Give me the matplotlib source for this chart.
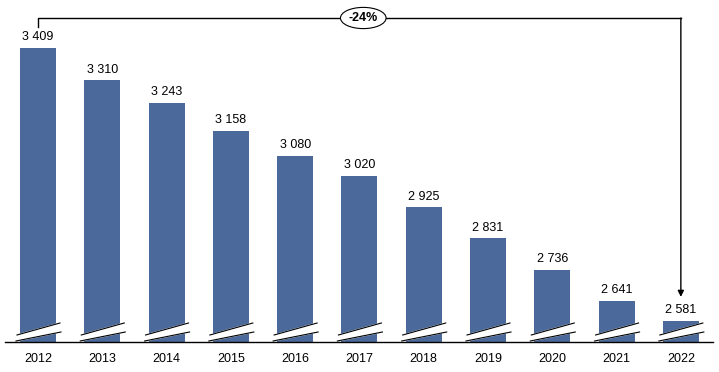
import numpy as np
import matplotlib
matplotlib.use("Agg")
from matplotlib import pyplot as plt

years = ["2012", "2013", "2014", "2015", "2016", "2017", "2018", "2019", "2020", "2021", "2022"]
values = [3409, 3310, 3243, 3158, 3080, 3020, 2925, 2831, 2736, 2641, 2581]
change_label = "-24%"

bar_color = "#4B6A9B"
plt.rcParams['font.family'] = ['Liberation Sans', 'DejaVu Sans']

fig = plt.figure(figsize=(7.19, 3.72), dpi=100)
ax = fig.add_axes([5/719, 30/372, 708/719, 342/372])

x = np.arange(len(years))
ymin, ymax = 2517, 3554
ax.bar(x, values, width=0.56, color=bar_color, zorder=2)
ax.set_xlim(-0.513, 10.5)
ax.set_ylim(ymin, ymax)

# pixel -> data helpers
px_x = 1 / 64.3
px_y = (ymax - ymin) / 342

for xi, v in zip(x, values):
    ax.annotate(f"{v:,}".replace(",", " "), (xi, v), xytext=(0, 3.5),
                textcoords="offset points", ha="center", va="bottom", fontsize=9)

# axis break marks
for xi in x:
    lo = [(xi - 22*px_x, ymin + 1*px_y), (xi + 23*px_x, ymin + 10*px_y)]
    hi = [(xi - 21*px_x, ymin + 7*px_y), (xi + 22*px_x, ymin + 19*px_y)]
    poly = np.array([lo[0], lo[1], hi[1], hi[0]])
    ax.fill(poly[:, 0], poly[:, 1], color="white", zorder=3, clip_on=False)
    ax.plot(*zip(*lo), color="black", lw=0.8, zorder=4, clip_on=False)
    ax.plot(*zip(*hi), color="black", lw=0.8, zorder=4, clip_on=False)

# bracket with change
y_br = ymin + (342 - 18) * px_y
ax.plot([x[0], x[0], x[-1]], [values[0] + 21*px_y, y_br, y_br], color="black", lw=1, clip_on=False, zorder=5)
ax.annotate("", xy=(x[-1], values[-1] + 24*px_y), xytext=(x[-1], y_br),
            arrowprops=dict(arrowstyle="-|>", color="black", lw=1, mutation_scale=9,
                            shrinkA=0, shrinkB=0), annotation_clip=False)
ax.text(5.06, y_br, change_label, ha="center", va="center",
        fontsize=9, fontweight="bold", zorder=6,
        bbox=dict(boxstyle="ellipse,pad=0.12", fc="white", ec="black", lw=0.8))

ax.set_xticks(x)
ax.set_xticklabels(years, fontsize=9)
ax.tick_params(axis="x", length=0, pad=8)
ax.set_yticks([])
for s in ["top", "left", "right"]:
    ax.spines[s].set_visible(False)
ax.spines["bottom"].set_linewidth(1)
ax.spines["bottom"].set_zorder(5)

fig.savefig("out.png", dpi=100)
